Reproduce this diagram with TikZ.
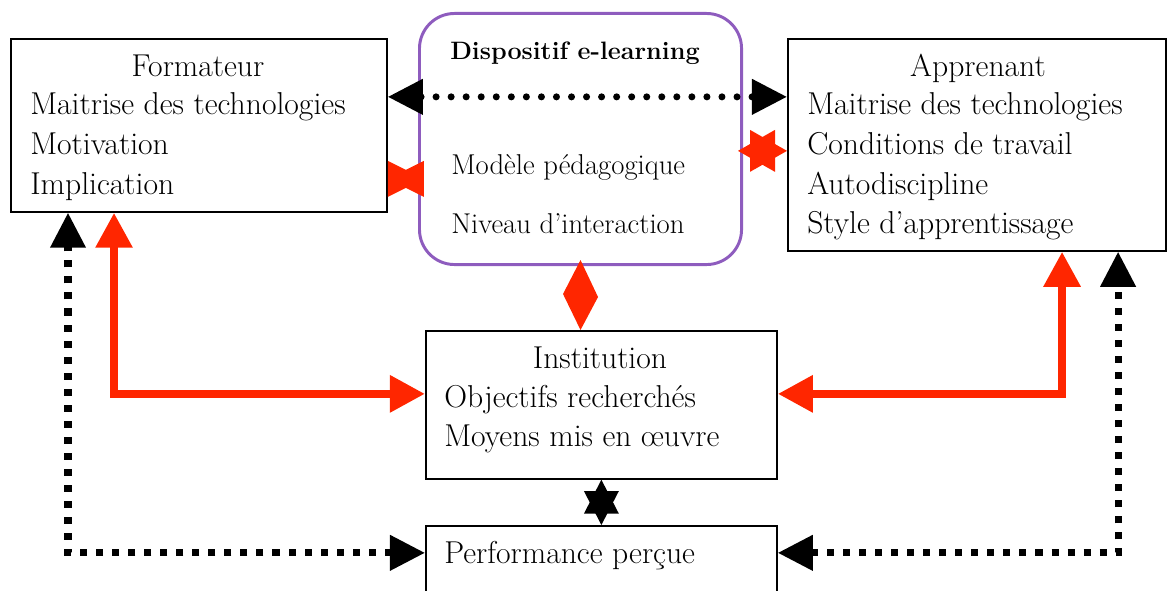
\documentclass[tikz,border=0pt]{standalone}
\usepackage{tikz}
\usetikzlibrary{arrows.meta}
\definecolor{flechered}{RGB}{255,38,0}
\definecolor{dispviolet}{RGB}{142,92,190}

\begin{document}
\begin{tikzpicture}[x=0.025cm,y=-0.025cm,
  boite/.style={draw,thick,line width=1.2pt,inner sep=0pt,anchor=north west},
  txt/.style={inner sep=0pt,font=\fontsize{22.5}{28}\selectfont},
  petit/.style={inner sep=0pt,font=\fontsize{20.4}{26}\selectfont},
  redline/.style={flechered,line width=6pt,{Triangle[length=24.9pt,width=25pt]}-{Triangle[length=24.9pt,width=25pt]}},
  pointille/.style={black,line width=5pt,dash pattern=on 5pt off 6.4pt,{Triangle[length=24.9pt,width=24.2pt]}-{Triangle[length=24.9pt,width=24.2pt]}},
  ronds/.style={black,line width=5pt,line cap=round,dash pattern=on 0pt off 10.7pt,{Triangle[length=24.9pt,width=24.2pt]}-{Triangle[length=24.9pt,width=24.2pt]}}]
\clip (0,0) rectangle (1167,591);
%Построение блоков
\node[boite,minimum width=9.4cm,minimum height=4.325cm] (form) at (10,38) {};
\node[boite,draw=dispviolet,line width=2.1pt,rounded corners=0.875cm,minimum width=8.05cm,minimum height=6.275cm] (disp) at (418,12) {};
\node[boite,minimum width=9.45cm,minimum height=5.3cm] (appr) at (787,38) {};
\node[boite,minimum width=8.775cm,minimum height=3.7cm] (inst) at (425,330) {};
\node[boite,minimum width=8.775cm,minimum height=2cm] (perf) at (425,525) {};%низ обрезан
%Тексты
\node[txt,anchor=base] (formT) at (198,77) {Formateur};
\node[txt,anchor=base west] (form1) at (30,115) {Maitrise des technologies};
\node[txt,anchor=base west] (form2) at (30,154.5) {Motivation};
\node[txt,anchor=base west] (form3) at (30,194) {Implication};
\node[inner sep=0pt,font=\fontsize{17.9}{24}\selectfont\bfseries,anchor=base] (dispT) at (575,60) {Dispositif e-learning};
\node[petit,anchor=base west] (disp1) at (451,175) {Modèle pédagogique};
\node[petit,anchor=base west] (disp2) at (451,233) {Niveau d’interaction};
\node[txt,anchor=base] (apprT) at (978,77) {Apprenant};
\node[txt,anchor=base west] (appr1) at (807,115) {Maitrise des technologies};
\node[txt,anchor=base west] (appr2) at (807,154.5) {Conditions de travail};
\node[txt,anchor=base west] (appr3) at (807,194) {Autodiscipline};
\node[txt,anchor=base west] (appr4) at (807,233.5) {Style d’apprentissage};
\node[txt,anchor=base] (instT) at (600,368) {Institution};
\node[txt,anchor=base west] (inst1) at (444,407) {Objectifs recherchés};
\node[txt,anchor=base west] (inst2) at (444,446) {Moyens mis en œuvre};
\node[txt,anchor=base west] (perf1) at (444,563) {Performance perçue};
%Пунктирные связи
\draw[ronds] ([yshift=0.7125cm]form.east) -- ([yshift=1.2cm]appr.west);
\draw[pointille] ([yshift=0.325cm]perf.west) -| ([xshift=1.45cm]form.south west);
\draw[pointille] ([yshift=0.325cm]perf.east) -| ([xshift=8.275cm]appr.south west);
%Красные связи
\draw[redline] ([yshift=0.275cm]inst.west) -| ([xshift=2.6cm]form.south west);
\draw[redline] ([yshift=0.275cm]inst.east) -| ([xshift=6.875cm]appr.south west);
%Символы между блоками
\coordinate (bt) at ([yshift=-1.3375cm]form.east);
\fill[flechered] (bt) ++(0,-18) -- ++(36,18) -- ++(-36,18) -- cycle;
\fill[flechered] (bt) ++(36,-18) -- ++(-36,18) -- ++(36,18) -- cycle;
\coordinate (etoile) at ([yshift=-0.15cm]appr.west);
\fill[flechered] (etoile) -- ++(-37,-21) -- ++(0,42) -- cycle;
\fill[flechered] (etoile) ++(-49,0) -- ++(37,-21) -- ++(0,42) -- cycle;
\coordinate (losH) at ([yshift=0.15cm]disp.south);
\coordinate (losB) at (disp.south |- inst.north);
\fill[flechered] (losH) -- ++(17.5,37) -- (losB) -- ++(-17.5,-36) -- cycle;
\coordinate (etH) at (inst.south);
\coordinate (etB) at (inst.south |- perf.north);
\fill[black] (etH) -- ++(17.5,34) -- ++(-35,0) -- cycle;
\fill[black] (etB) -- ++(17.5,-34) -- ++(-35,0) -- cycle;
\end{tikzpicture}
\end{document}
